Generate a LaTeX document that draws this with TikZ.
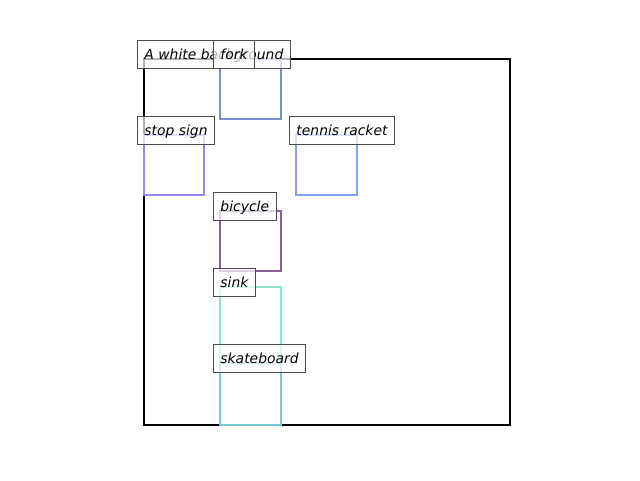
\documentclass[tikz,border=0pt]{standalone}
\usepackage{fontspec}
\setmainfont{DejaVu Sans}
\begin{document}
\begin{tikzpicture}[x=1pt,y=-1pt,
  bbox/.style={line width=2.2},
  lab/.style={draw=black!70, line width=0.9, fill=white, fill opacity=0.7, text opacity=1,
    anchor=base west, inner xsep=7pt, inner ysep=7pt, text height=12pt, text depth=2pt,
    font=\fontsize{13.9pt}{16pt}\selectfont\itshape}]
\definecolor{cfork}{RGB}{125,140,205}
\definecolor{cstop}{RGB}{155,135,235}
\definecolor{ctennis}{RGB}{128,160,240}
\definecolor{cbike}{RGB}{140,95,150}
\definecolor{csink}{RGB}{140,230,200}
\definecolor{cskate}{RGB}{120,200,215}
\useasboundingbox (0,0) rectangle (640,480);
\draw[bbox, black] (144,59) rectangle (510,425);
\draw[bbox, cfork] (220,59) rectangle (281,119);
\draw[bbox, cstop] (144,135) rectangle (204,195);
\draw[bbox, ctennis] (296,135) rectangle (357,195);
\draw[bbox, cbike] (220,211) rectangle (281,271);
\draw[bbox, csink] (220,287) rectangle (281,425);
\draw[bbox, cskate] (220,363) rectangle (281,425);
\node[lab] (lbg) at (137,59) {A white background};
\node[lab] (lfork) at (213,59) {fork};
\node[lab] (lstop) at (137,135) {stop sign};
\node[lab] (ltennis) at (289,135) {tennis racket};
\node[lab] (lbike) at (213,211) {bicycle};
\node[lab] (lsink) at (213,287) {sink};
\node[lab] (lskate) at (213,363) {skateboard};
\end{tikzpicture}
\end{document}
